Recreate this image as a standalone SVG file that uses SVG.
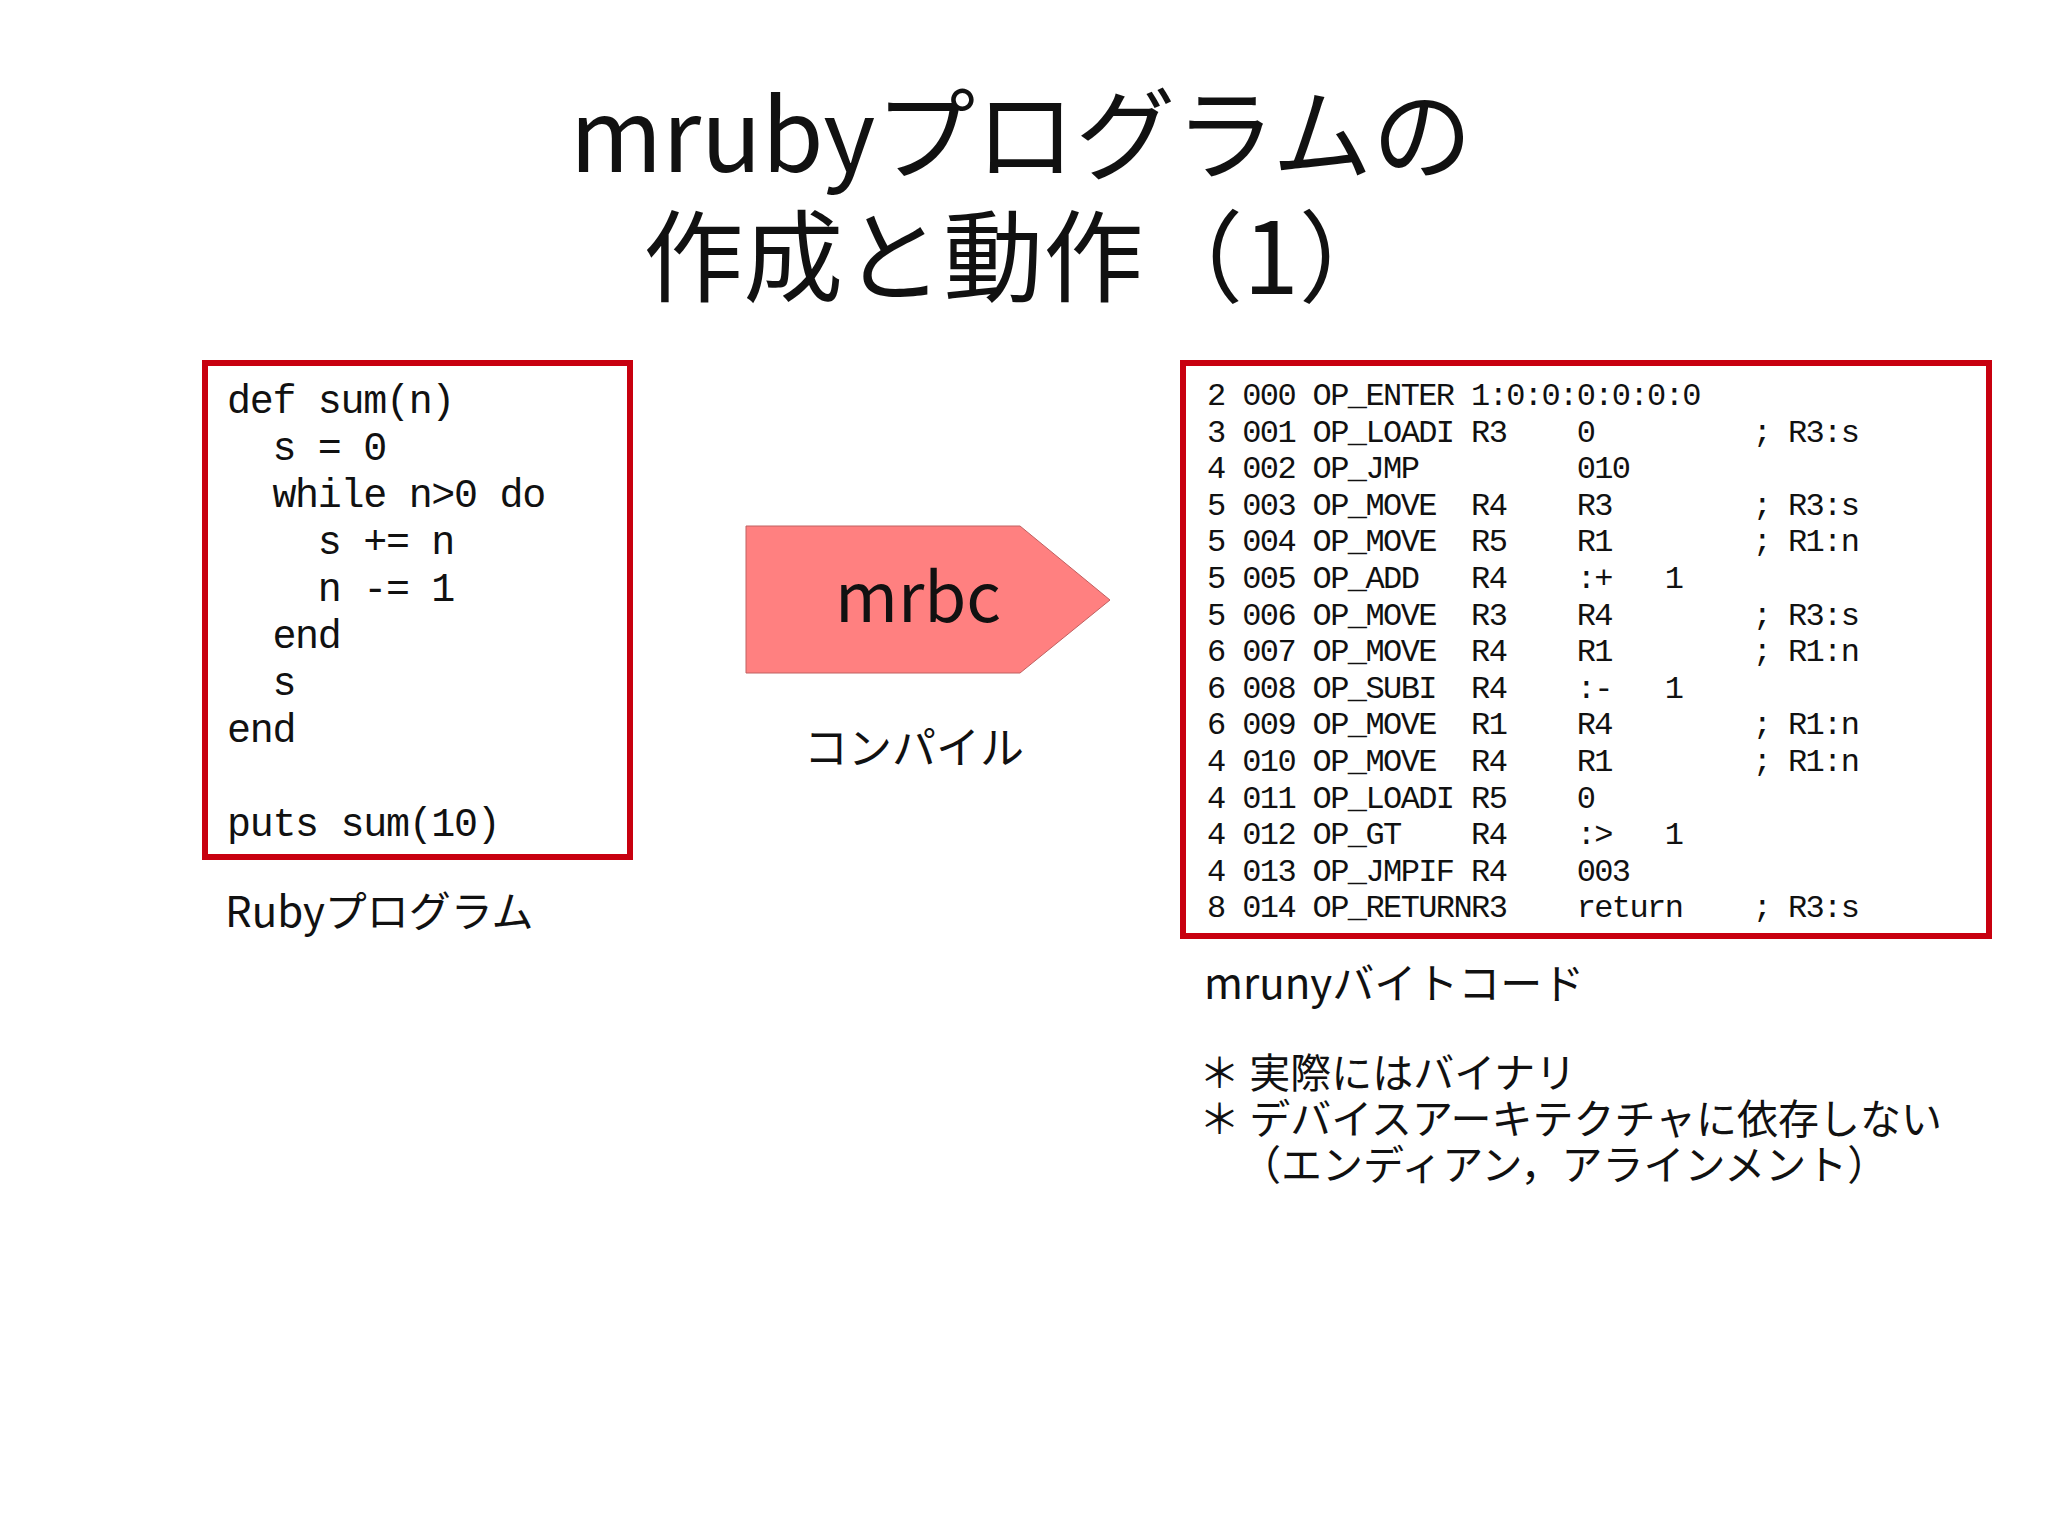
<svg xmlns="http://www.w3.org/2000/svg" width="2048" height="1535" viewBox="0 0 2048 1535">
<style>
.t{font-family:"Noto Sans CJK JP","Noto Sans",sans-serif;fill:#111}
.m{font-family:"Liberation Mono","DejaVu Sans Mono",monospace;fill:#111;white-space:pre}
.box{fill:#fff;stroke:#c8000f;stroke-width:6}
</style>
<rect width="2048" height="1535" fill="#fff"/>
<g id="title">
<text class="t" x="1021" y="172" font-size="100" text-anchor="middle">mrubyプログラムの</text>
<text class="t" x="1021" y="294" font-size="100" text-anchor="middle">作成と動作（1）</text>
</g>
<g id="ruby">
<rect class="box" x="205" y="363" width="425" height="494"/>
<text class="m" font-size="40" letter-spacing="-1.3" xml:space="preserve"><tspan x="227" y="413">def sum(n)</tspan><tspan x="227" y="460">  s = 0</tspan><tspan x="227" y="507">  while n&gt;0 do</tspan><tspan x="227" y="554">    s += n</tspan><tspan x="227" y="601">    n -= 1</tspan><tspan x="227" y="648">  end</tspan><tspan x="227" y="695">  s</tspan><tspan x="227" y="742">end</tspan><tspan x="227" y="836">puts sum(10)</tspan></text>
<text class="t" x="225" y="927" font-size="42">Rubyプログラム</text>
</g>
<g id="mrbc">
<polygon points="746,526 1020,526 1110,600 1020,673 746,673" fill="#ff8080" stroke="#c06060" stroke-width="1"/>
<text class="t" x="918" y="622" font-size="68" text-anchor="middle">mrbc</text>
<text class="t" x="914" y="764" font-size="44" text-anchor="middle">コンパイル</text>
</g>
<g id="bytecode">
<rect class="box" x="1183" y="363" width="806" height="573"/>
<text class="m" font-size="32" letter-spacing="-1.6" xml:space="preserve"><tspan x="1207" y="405">2 000 OP_ENTER 1:0:0:0:0:0:0</tspan><tspan x="1207" y="441.6">3 001 OP_LOADI R3    0         ; R3:s</tspan><tspan x="1207" y="478.2">4 002 OP_JMP         010</tspan><tspan x="1207" y="514.8">5 003 OP_MOVE  R4    R3        ; R3:s</tspan><tspan x="1207" y="551.4">5 004 OP_MOVE  R5    R1        ; R1:n</tspan><tspan x="1207" y="588">5 005 OP_ADD   R4    :+   1</tspan><tspan x="1207" y="624.6">5 006 OP_MOVE  R3    R4        ; R3:s</tspan><tspan x="1207" y="661.2">6 007 OP_MOVE  R4    R1        ; R1:n</tspan><tspan x="1207" y="697.8">6 008 OP_SUBI  R4    :-   1</tspan><tspan x="1207" y="734.4">6 009 OP_MOVE  R1    R4        ; R1:n</tspan><tspan x="1207" y="771">4 010 OP_MOVE  R4    R1        ; R1:n</tspan><tspan x="1207" y="807.6">4 011 OP_LOADI R5    0</tspan><tspan x="1207" y="844.2">4 012 OP_GT    R4    :&gt;   1</tspan><tspan x="1207" y="880.8">4 013 OP_JMPIF R4    003</tspan><tspan x="1207" y="917.4">8 014 OP_RETURNR3    return    ; R3:s</tspan></text>
<text class="t" x="1204" y="999" font-size="42">mrunyバイトコード</text>
<text class="t" font-size="41"><tspan x="1199" y="1088">＊ 実際にはバイナリ</tspan><tspan x="1199" y="1134">＊ デバイスアーキテクチャに依存しない</tspan><tspan x="1240" y="1180">（エンディアン，アラインメント）</tspan></text>
</g>
</svg>
